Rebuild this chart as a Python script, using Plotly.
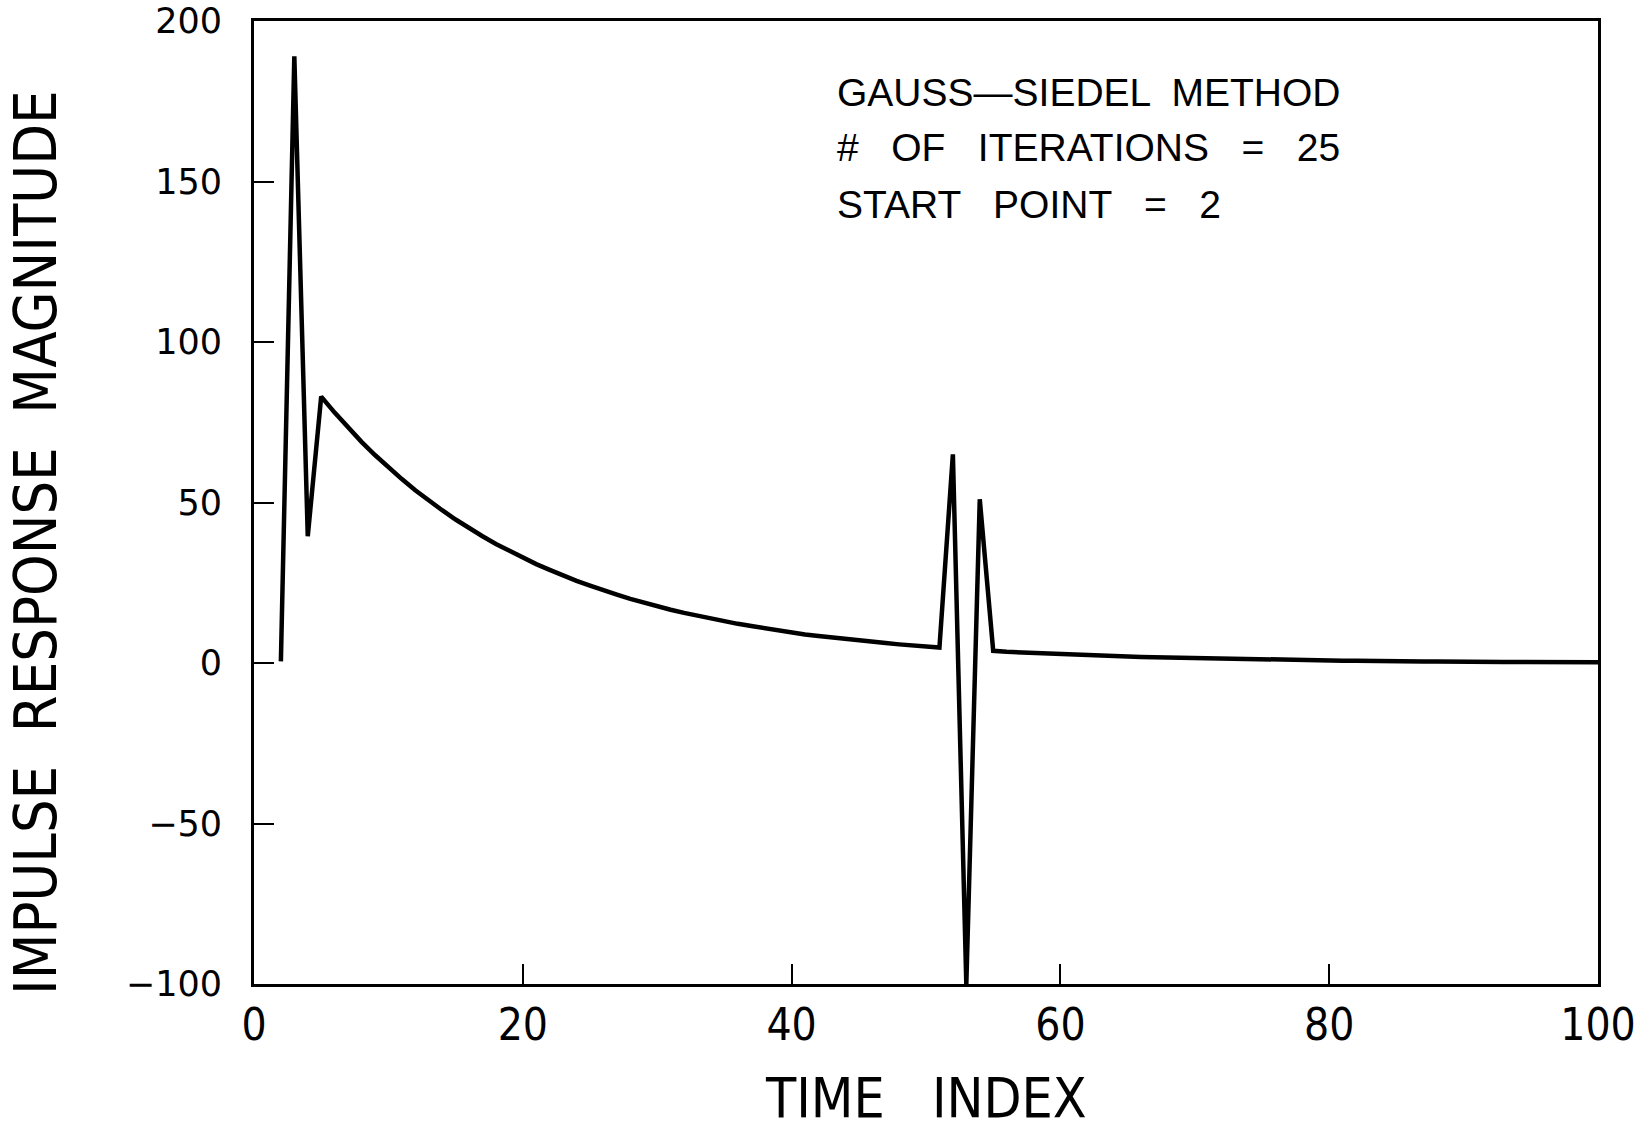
import plotly.graph_objects as go

time_index = list(range(2, 101))
magnitude = [
    0.5, 189.0, 39.5, 83.0, 78.0, 73.3, 68.9, 64.8, 60.9, 57.3,
    53.8, 50.6, 47.6, 44.7, 42.0, 39.5, 37.1, 34.9, 32.8, 30.8,
    29.0, 27.2, 25.6, 24.1, 22.6, 21.3, 20.0, 18.8, 17.7, 16.6,
    15.6, 14.7, 13.8, 13.0, 12.2, 11.5, 10.8, 10.1, 9.5, 8.9,
    8.4, 7.9, 7.4, 7.0, 6.6, 6.2, 5.8, 5.5, 5.1, 4.8,
    65.0, -100.0, 51.0, 3.8, 3.5, 3.3, 3.1, 2.9, 2.8, 2.6,
    2.4, 2.3, 2.2, 2.0, 1.9, 1.8, 1.7, 1.6, 1.5, 1.4,
    1.3, 1.2, 1.1, 1.1, 1.0, 0.9, 0.9, 0.8, 0.8, 0.7,
    0.7, 0.6, 0.6, 0.6, 0.5, 0.5, 0.5, 0.4, 0.4, 0.4,
    0.3, 0.3, 0.3, 0.3, 0.3, 0.2, 0.2, 0.2, 0.2,
]
x_ticks = [0, 20, 40, 60, 80, 100]
y_ticks = [-100, -50, 0, 50, 100, 150, 200]
info_lines = ["GAUSS\u2014SIEDEL  METHOD", "#   OF   ITERATIONS   =   25", "START   POINT   =   2"]

L, R, T, B = 254, 44, 21, 149
PW = 1642 - L - R
PH = 1133 - T - B
bottom = 1133 - B

fig = go.Figure()
fig.add_trace(go.Scatter(x=time_index, y=magnitude, mode="lines",
                         line=dict(color="black", width=4.5), showlegend=False,
                         cliponaxis=True))

fig.update_layout(
    width=1642, height=1133,
    margin=dict(l=L, r=R, t=T, b=B),
    paper_bgcolor="white", plot_bgcolor="white",
    font=dict(family="Liberation Sans, Arial", color="black"),
)
fig.update_xaxes(range=[0, 100], tickvals=x_ticks, ticks="inside", ticklen=20, tickwidth=2,
                 tickcolor="black", showline=True, linewidth=3, linecolor="black", mirror=True,
                 showgrid=False, zeroline=False, automargin=False,
                 tickfont=dict(family="Liberation Sans Narrow, DejaVu Sans Condensed", size=44),
                 ticklabelstandoff=0, ticklabeloverflow="allow")
fig.update_yaxes(range=[-100, 200], tickvals=y_ticks, ticks="inside", ticklen=20, tickwidth=2,
                 tickcolor="black", showline=True, linewidth=3, linecolor="black", mirror=True,
                 showgrid=False, zeroline=False, automargin=False,
                 tickfont=dict(family="DejaVu Sans, Liberation Sans", size=35),
                 ticklabelstandoff=22, ticklabeloverflow="allow")

for i, line in enumerate(info_lines):
    fig.add_annotation(text=line, xref="paper", yref="paper", x=(835 - L) / PW,
                       y=(bottom - (92 + 56 * i)) / PH, xanchor="left", yanchor="middle",
                       showarrow=False, font=dict(size=39, family="Liberation Sans, Arial"))

fig.add_annotation(text="TIME   INDEX", xref="paper", yref="paper", x=0.5,
                   y=-(1132 - bottom) / PH, xanchor="center", yanchor="bottom", showarrow=False,
                   font=dict(size=55, family="Liberation Sans Narrow, DejaVu Sans Condensed"))
fig.add_annotation(text="IMPULSE  RESPONSE  MAGNITUDE", xref="paper", yref="paper",
                   x=-(L - 35) / PW, y=(bottom - 543) / PH, xanchor="center", yanchor="middle",
                   textangle=-90, showarrow=False,
                   font=dict(size=59, family="Liberation Sans Narrow, DejaVu Sans Condensed"))

fig.write_html("out.html")
